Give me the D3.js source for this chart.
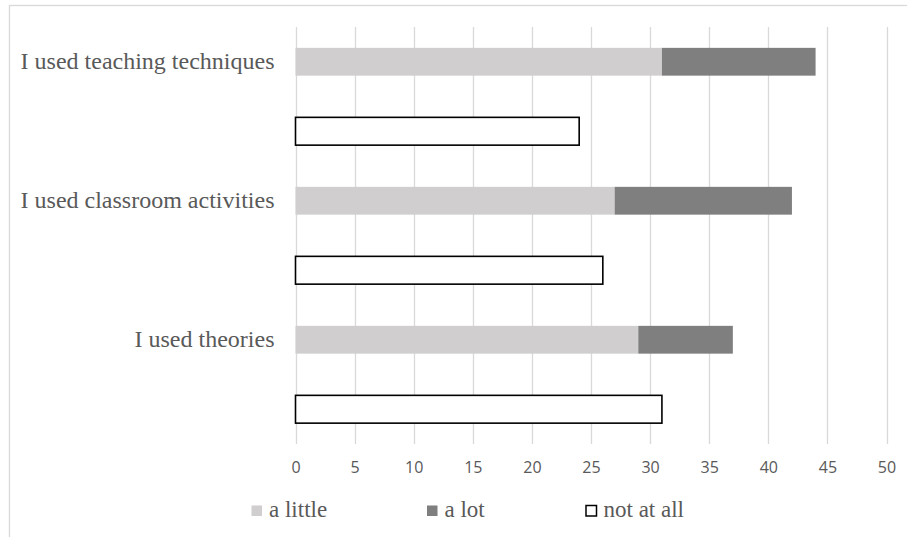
<!DOCTYPE html>
<html>
<head>
<meta charset="utf-8">
<script src="https://cdn.jsdelivr.net/npm/d3@7"></script>
<style>
  html, body { margin: 0; padding: 0; background: #fff; }
  svg { display: block; }
  .serif { font-family: "Liberation Serif", "Times New Roman", Tinos, "DejaVu Serif", serif; }
</style>
</head>
<body>
<svg id="chart" width="907" height="537"></svg>
<script>
// Survey responses per statement
const categories = ["I used teaching techniques", "I used classroom activities", "I used theories"];
const aLittle  = [31, 27, 29];
const aLot     = [13, 15, 8];
const notAtAll = [24, 26, 31];
const xTicks   = [0, 5, 10, 15, 20, 25, 30, 35, 40, 45, 50];
const seriesNames = ["a little", "a lot", "not at all"];

const W = 907, H = 537;
const plot = { left: 295.5, right: 886.5, top: 27, bottom: 444 };
const serifFont = "Liberation Serif, Times New Roman, Tinos, DejaVu Serif, serif";

const svg = d3.select("#chart");

// outer chart frame
svg.append("rect")
  .attr("x", 9.5).attr("y", 5.5)
  .attr("width", W + 20).attr("height", H + 20)
  .attr("fill", "none").attr("stroke", "#d9d9d9").attr("stroke-width", 1.3);

// each statement gets two rows: the stacked row and the "not at all" row
const rows = [];
categories.forEach((c, i) => {
  rows.push({ key: i + "-stack", cat: i, kind: "stack" });
  rows.push({ key: i + "-none", cat: i, kind: "none" });
});

const x = d3.scaleLinear().domain([0, 50]).range([plot.left, plot.right]);
const y = d3.scaleBand()
  .domain(rows.map(r => r.key))
  .range([plot.top, plot.bottom])
  .paddingInner(0.6).paddingOuter(0.3);

// vertical gridlines
svg.append("g").selectAll("line")
  .data(xTicks).join("line")
  .attr("x1", d => Math.round(x(d)) + 0.5).attr("x2", d => Math.round(x(d)) + 0.5)
  .attr("y1", plot.top).attr("y2", plot.bottom)
  .attr("stroke", "#d9d9d9").attr("stroke-width", 1.3);

// x axis labels
const xAxis = svg.append("g")
  .attr("transform", `translate(0,${plot.bottom})`)
  .call(d3.axisBottom(x).tickValues(xTicks).tickSize(0).tickFormat(d3.format("d")));
xAxis.select(".domain").remove();
xAxis.attr("font-family", "Open Sans, Noto Sans, sans-serif").attr("font-size", 16);
xAxis.selectAll("text")
  .attr("y", 23).attr("dy", "0.35em")
  .attr("fill", "#595959");

// category labels
const yAxis = svg.append("g")
  .attr("transform", `translate(${plot.left},0)`)
  .call(d3.axisLeft(y)
    .tickValues(rows.filter(r => r.kind === "stack").map(r => r.key))
    .tickSize(0).tickPadding(21)
    .tickFormat(k => categories[+k.split("-")[0]]));
yAxis.select(".domain").remove();
yAxis.attr("font-family", serifFont).attr("font-size", 24);
yAxis.selectAll("text")
  .attr("class", "serif")
  .attr("fill", "#595959");

const colors = { little: "#d0cece", lot: "#7f7f7f" };

// stacked bars: a little + a lot
const stackRows = rows.filter(r => r.kind === "stack");
svg.append("g").selectAll("rect")
  .data(stackRows).join("rect")
  .attr("x", r => x(0))
  .attr("y", r => y(r.key))
  .attr("width", r => x(aLittle[r.cat]) - x(0))
  .attr("height", y.bandwidth())
  .attr("fill", colors.little);

svg.append("g").selectAll("rect")
  .data(stackRows).join("rect")
  .attr("x", r => x(aLittle[r.cat]))
  .attr("y", r => y(r.key))
  .attr("width", r => x(aLittle[r.cat] + aLot[r.cat]) - x(aLittle[r.cat]))
  .attr("height", y.bandwidth())
  .attr("fill", colors.lot);

// "not at all" bars
svg.append("g").selectAll("rect")
  .data(rows.filter(r => r.kind === "none")).join("rect")
  .attr("x", r => x(0))
  .attr("y", r => y(r.key))
  .attr("width", r => x(notAtAll[r.cat]) - x(0))
  .attr("height", y.bandwidth())
  .attr("fill", "#ffffff")
  .attr("stroke", "#000000").attr("stroke-width", 1.6);

// legend
const legendItems = [
  { name: seriesNames[0], x: 251, fill: colors.little, stroke: "none" },
  { name: seriesNames[1], x: 426.5, fill: colors.lot, stroke: "none" },
  { name: seriesNames[2], x: 585.5, fill: "#ffffff", stroke: "#000000" }
];
const lg = svg.append("g")
  .attr("font-family", serifFont).attr("font-size", 23)
  .selectAll("g")
  .data(legendItems).join("g")
  .attr("transform", d => `translate(${d.x},505)`);
lg.append("rect")
  .attr("x", 0.5).attr("y", 0.5)
  .attr("width", 10.5).attr("height", 10.5)
  .attr("fill", d => d.fill)
  .attr("stroke", d => d.stroke).attr("stroke-width", 1.5);
lg.append("text")
  .attr("class", "serif")
  .attr("x", 18).attr("y", 12)
  .attr("fill", "#595959")
  .text(d => d.name);
</script>
</body>
</html>
